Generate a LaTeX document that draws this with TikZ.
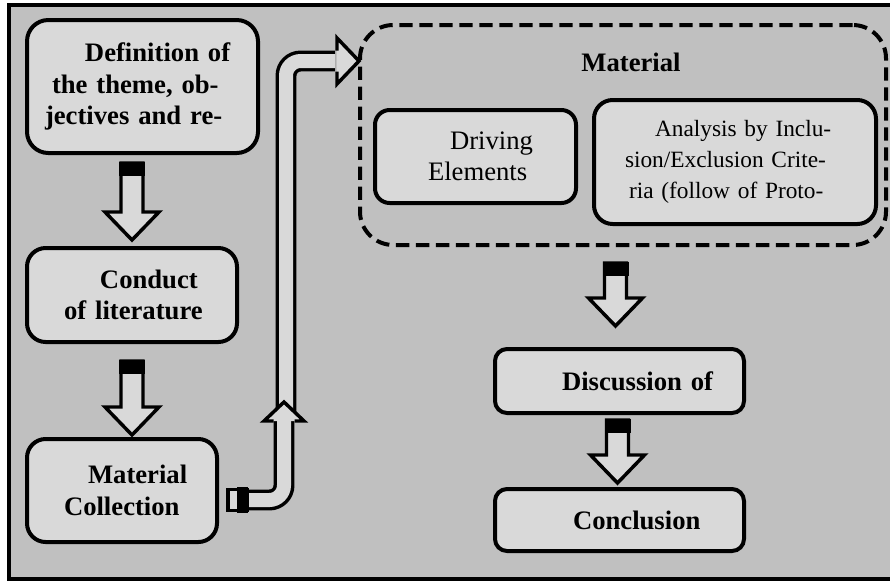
\documentclass[tikz,border=0pt]{standalone}
\usepackage{fontspec}
\setmainfont{Liberation Serif}
\usetikzlibrary{calc}
\definecolor{bggray}{RGB}{192,192,192}
\definecolor{boxfill}{RGB}{217,217,217}
\begin{document}
\begin{tikzpicture}[x=0.75pt,y=-0.75pt,
  box/.style={draw,line width=3pt,fill=boxfill,rounded corners=11pt,inner sep=0pt,align=left,font=\fontsize{20}{23.5}\selectfont\bfseries},
  subbox/.style={box,font=\fontsize{20}{23}\selectfont},
  groupbox/.style={draw,line width=3pt,dash pattern=on 10pt off 5pt,rounded corners=25pt,inner sep=0pt},
  tube/.style={line width=2.6pt,double=boxfill,double distance=10.5pt,rounded corners=11pt},
  tubeline/.style={line width=2.6pt,line join=miter}]
\useasboundingbox (0,0) rectangle (890,583);
\filldraw[fill=bggray,line width=2.4pt] (9,5) rectangle (905,579);
\node[box,text width=173.25pt,minimum width=173.25pt,minimum height=99.75pt,rounded corners=16pt] (def) at (142.5,86.5)
  {\hspace*{43.5pt}\makebox[107.25pt][s]{Definition of}\\\hspace*{18.75pt}\makebox[127.5pt][s]{the theme, ob-}\\\hspace*{13.5pt}\makebox[137.25pt][s]{jectives and re-}};
\node[box,text width=157.5pt,minimum width=157.5pt,minimum height=70.5pt,rounded corners=14pt] (conduct) at (132,295)
  {\hspace*{54.75pt}Conduct\\\hspace*{27.75pt}of literature};
\node[box,text width=142.5pt,minimum width=142.5pt,minimum height=77.25pt,rounded corners=14pt] (coll) at (122,490.5)
  {\hspace*{45.75pt}Material\\\hspace*{27.75pt}Collection};
\node[groupbox,minimum width=394.5pt,minimum height=165pt] (matgroup) at (623,135) {};
\node[font=\fontsize{20}{23}\selectfont\bfseries] (mattitle) at (631,62) {Material};
\node[subbox,text width=150.75pt,minimum width=150.75pt,minimum height=69.75pt] (driving) at (475.5,156.5)
  {\hspace*{56.25pt}Driving\\\hspace*{39.75pt}Elements};
\node[subbox,text width=211.5pt,minimum width=211.5pt,minimum height=93pt,rounded corners=14pt,font=\fontsize{17.5}{23}\selectfont] (analysis) at (735,162)
  {\makebox[211.5pt][l]{\hspace*{45.75pt}\makebox[144.75pt][s]{Analysis by Inclu-}}\\\makebox[211.5pt][l]{\hspace*{23.25pt}sion/Exclusion Crite-}\\\makebox[211.5pt][l]{\hspace*{26.25pt}ria (follow of Proto-}};
\node[box,text width=186.75pt,minimum width=186.75pt,minimum height=48pt,rounded corners=9pt] (disc) at (619.5,381)
  {\hspace*{50.25pt}Discussion of};
\node[box,text width=186.75pt,minimum width=186.75pt,minimum height=46.5pt,rounded corners=9pt] (concl) at (619.5,520)
  {\hspace*{58.5pt}Conclusion};
\coordinate (t1) at ($(conduct.north)+(0,-6)$);
\coordinate (t2) at ($(conduct.south |- coll.north)+(0,-2)$);
\coordinate (t3) at ($(disc.north)+(-4,-21)$);
\coordinate (t4) at ($(concl.north)+(-2,-4)$);
\foreach \t/\l in {t1/77,t2/74,t3/63,t4/63}{
  \filldraw[fill=boxfill,tubeline] (\t) -- ++(-27,-28) -- ++(16,0) -- ++(0,{28-\l}) -- ++(22,0) -- ++(0,{\l-28}) -- ++(16,0) -- cycle;
  \fill (\t) ++(-13,{-\l-1}) rectangle ++(26,14);
}
\coordinate (up) at ($(coll.east)+(67,-78.5)$);
\coordinate (bend) at ($(matgroup.west)+(-23,-74)$);
\draw[tube] (up) -- (up |- bend) -- (bend);
\fill[boxfill] (337,38) -- (359,61) -- (337,84) -- cycle;
\draw[tubeline] (337,50.5) -- (337,38) -- (359,61) -- (337,84) -- (337,71.5);
\draw[tube] ($(coll.east)+(11,9.5)$) -- (284,500) -- (284,421);
\fill[boxfill] (264,421) -- (284,402) -- (304,421) -- cycle;
\draw[tubeline] (273.5,421) -- (264,421) -- (284,402) -- (304,421) -- (294.5,421);
\filldraw[fill=boxfill,line width=2.6pt] (228,489.5) rectangle (247,510.5);
\fill (237,487) rectangle (248,513);
\end{tikzpicture}
\end{document}
